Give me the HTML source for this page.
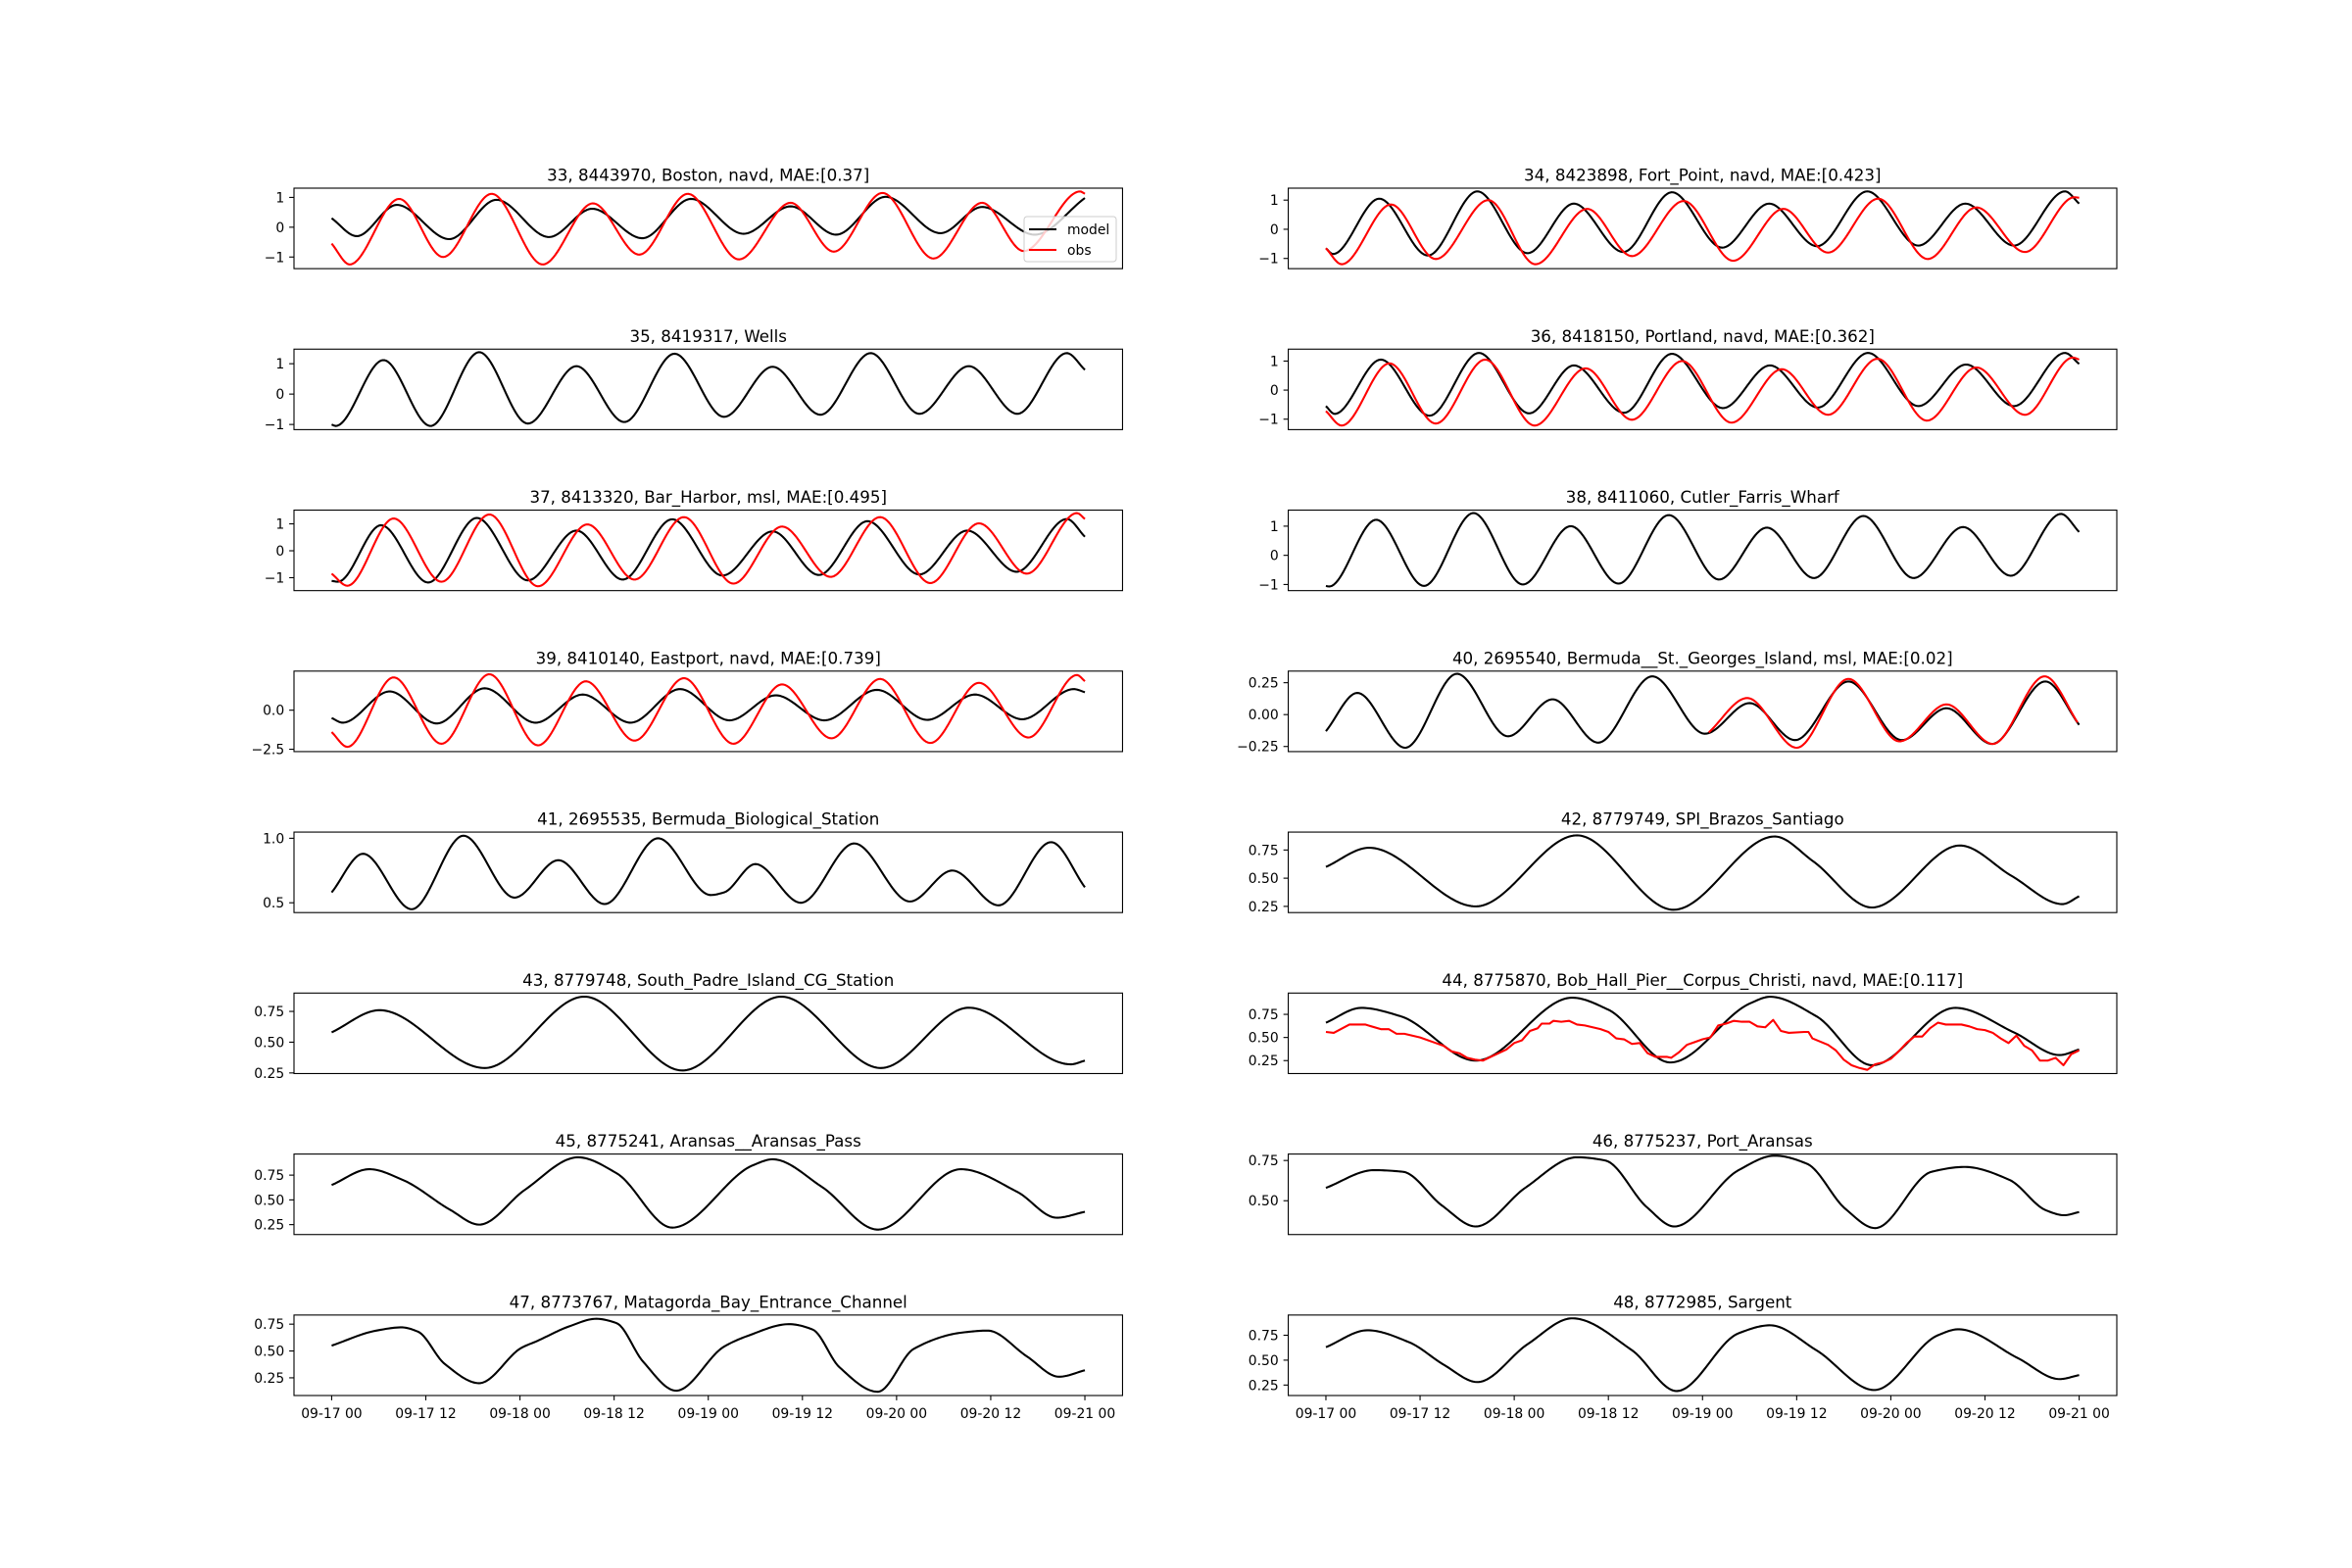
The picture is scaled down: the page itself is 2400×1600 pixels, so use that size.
<!DOCTYPE html>
<html><head><meta charset="utf-8"><title>Tide comparison</title>
<style>
html,body{margin:0;padding:0;background:#fff;}
svg{display:block;font-family:"DejaVu Sans","Liberation Sans",sans-serif;}
</style></head>
<body>
<svg id="fig" xmlns="http://www.w3.org/2000/svg" width="2400" height="1600" viewBox="0 0 2400 1600">
<rect x="0" y="0" width="2400" height="1600" fill="#fff"/>
</svg>
<script>
// ---- data (hours since 09-17 00, water level) ----
const xTickLabels=["09-17 00","09-17 12","09-18 00","09-18 12","09-19 00","09-19 12","09-20 00","09-20 12","09-21 00"];
const xTickHours=[0,12,24,36,48,60,72,84,96];

const bostonModelT=[0,3.2,8.3,15.0,21.0,27.7,33.2,39.6,45.8,52.5,58.5,64.3,70.6,77.6,82.9,89.6,96];
const bostonModelV=[0.3,-0.3,0.75,-0.4,0.92,-0.33,0.62,-0.37,0.95,-0.22,0.7,-0.25,1.02,-0.2,0.68,-0.25,0.98];
const bostonObsT=[0,2.3,8.6,14.2,20.4,26.9,33.3,39.2,45.4,51.9,58.5,64.0,70.2,76.7,82.9,88.2,95.4,96];
const bostonObsV=[-0.55,-1.25,0.95,-1.0,1.12,-1.25,0.8,-0.92,1.12,-1.08,0.82,-0.82,1.15,-1.05,0.82,-0.8,1.2,1.12];

const wellsModelT=[0,0.5,6.6,12.6,18.8,25.0,31.2,37.3,43.7,50.0,56.2,62.3,68.7,74.9,81.2,87.4,93.7,96];
const wellsModelV=[-1.0,-1.05,1.12,-1.05,1.38,-0.97,0.92,-0.92,1.33,-0.75,0.9,-0.68,1.35,-0.65,0.92,-0.65,1.35,0.8];

const barHarborModelT=[0,0.8,6.3,12.3,18.5,25.0,31.2,37.1,43.4,49.8,56.2,62.1,68.3,74.9,81.0,87.3,93.7,96];
const barHarborModelV=[-1.12,-1.15,0.95,-1.18,1.22,-1.1,0.75,-1.07,1.17,-0.92,0.72,-0.9,1.1,-0.88,0.75,-0.78,1.18,0.52];
const barHarborObsT=[0,2.0,7.9,14.0,20.1,26.3,32.6,38.6,44.9,51.2,57.4,63.6,69.9,76.3,82.5,88.6,95.0,96];
const barHarborObsV=[-0.85,-1.3,1.2,-1.15,1.35,-1.32,0.98,-1.07,1.25,-1.22,0.9,-0.97,1.25,-1.2,1.02,-0.85,1.4,1.18];

const eastportModelT=[0,1.4,7.4,13.4,19.5,26.0,32.0,38.1,44.4,50.7,56.6,62.8,69.5,75.9,82.0,88.0,94.6,96];
const eastportModelV=[-0.5,-0.8,1.2,-0.85,1.4,-0.8,1.0,-0.8,1.35,-0.65,0.95,-0.65,1.3,-0.62,1.0,-0.58,1.35,1.15];
const eastportObsT=[0,2.0,7.9,14.0,20.1,26.3,32.4,38.6,44.9,51.2,57.4,63.7,69.9,76.3,82.5,88.8,95.0,96];
const eastportObsV=[-1.4,-2.35,2.1,-2.15,2.3,-2.25,1.85,-1.95,2.05,-2.15,1.65,-1.8,2.0,-2.1,1.75,-1.75,2.25,1.85];

const bermBioModelT=[0,4.0,10.2,16.8,23.3,28.9,34.8,41.6,48.3,50.0,54.0,59.8,66.6,73.7,79.1,85.0,91.7,96];
const bermBioModelV=[0.58,0.88,0.45,1.02,0.54,0.83,0.49,1.0,0.56,0.58,0.8,0.5,0.96,0.51,0.75,0.48,0.97,0.62];

const southPadreModelT=[0,6.1,19.5,32.2,44.7,57.3,70.0,81.2,94.2,96];
const southPadreModelV=[0.58,0.76,0.29,0.87,0.27,0.87,0.29,0.78,0.32,0.35];

const aransasModelT=[0,4.8,9.1,15.1,18.8,24.6,31.4,36.3,43.4,53.7,56.2,62.5,69.6,80.2,87.4,92.4,96];
const aransasModelV=[0.65,0.81,0.7,0.4,0.25,0.6,0.93,0.77,0.22,0.85,0.91,0.63,0.2,0.81,0.58,0.32,0.38];

const matagordaModelT=[0,5.7,8.9,11.0,14.4,18.8,24.2,26.1,30.3,33.7,36.3,39.7,43.9,50.0,53.0,58.3,61.3,64.7,69.6,74.2,80.2,83.6,88.6,92.7,96];
const matagordaModelV=[0.55,0.69,0.72,0.68,0.38,0.2,0.53,0.59,0.73,0.8,0.76,0.4,0.13,0.54,0.64,0.75,0.7,0.35,0.12,0.52,0.67,0.69,0.45,0.26,0.32];

const fortPointModelT=[0,0.9,6.8,13.0,19.3,25.7,31.6,37.9,44.1,50.5,56.5,62.6,69.0,75.5,81.5,87.7,94.2,96];
const fortPointModelV=[-0.65,-0.85,1.05,-0.9,1.3,-0.82,0.88,-0.78,1.27,-0.63,0.88,-0.58,1.3,-0.56,0.88,-0.56,1.3,0.88];
const fortPointObsT=[0,2.0,8.3,14.0,20.7,26.7,33.3,39.0,45.6,51.9,58.3,64.0,70.4,76.7,82.9,89.1,95.4,96];
const fortPointObsV=[-0.65,-1.2,0.85,-1.02,1.0,-1.2,0.7,-0.92,0.97,-1.08,0.7,-0.8,1.05,-1.02,0.75,-0.78,1.1,1.08];

const portlandModelT=[0,1.1,7.0,13.2,19.5,25.9,31.6,38.0,44.1,50.6,56.6,62.7,69.1,75.5,81.6,87.7,94.2,96];
const portlandModelV=[-0.55,-0.82,1.05,-0.88,1.28,-0.8,0.85,-0.78,1.25,-0.62,0.85,-0.6,1.28,-0.55,0.88,-0.55,1.28,0.9];
const portlandObsT=[0,2.0,8.1,14.0,20.3,26.6,33.1,39.0,45.4,51.7,58.1,64.0,70.3,76.6,82.9,89.1,95.2,96];
const portlandObsV=[-0.72,-1.22,0.92,-1.15,1.05,-1.22,0.75,-1.02,1.0,-1.12,0.72,-0.85,1.08,-1.05,0.78,-0.85,1.12,1.05];

const cutlerModelT=[0,0.4,6.4,12.5,18.8,25.1,31.2,37.3,43.7,50.1,56.2,62.2,68.5,74.9,81.2,87.3,93.7,96];
const cutlerModelV=[-1.05,-1.07,1.22,-1.05,1.45,-1.0,1.0,-0.97,1.38,-0.83,0.95,-0.78,1.35,-0.78,0.97,-0.7,1.42,0.8];

const bermSGModelT=[0,4.0,10.1,16.7,23.2,28.9,34.7,41.6,48.3,54.0,59.8,66.6,73.4,79.1,84.9,91.7,96];
const bermSGModelV=[-0.13,0.17,-0.26,0.32,-0.17,0.12,-0.22,0.3,-0.15,0.09,-0.2,0.26,-0.2,0.05,-0.23,0.26,-0.08];
const bermSGObsT=[48.8,53.7,60.0,66.6,73.1,79.1,85.0,91.6,96];
const bermSGObsV=[-0.14,0.13,-0.26,0.28,-0.21,0.08,-0.23,0.3,-0.08];

const spiModelT=[0,5.5,19.1,32.0,44.3,57.2,62.1,69.6,80.8,87.4,93.9,96];
const spiModelV=[0.6,0.77,0.25,0.88,0.22,0.87,0.65,0.24,0.79,0.52,0.27,0.34];

const bobHallModelT=[0,4.5,9.5,19.1,31.4,36.0,43.9,54.1,56.6,62.5,69.6,80.2,87.8,93.5,96];
const bobHallModelV=[0.66,0.82,0.73,0.25,0.93,0.8,0.23,0.87,0.94,0.73,0.2,0.82,0.55,0.31,0.37];
const bobHallObsT=[0,1,3,5,7,8,9,10,12,14,15,16,17,18,19,20,21,22,23,24,25,26,27,27.5,28.5,29,30,31,32,33,35,36,37,38,39,40,41,42,43.5,44,45,46,47,48,49,50,51,52,53,54,55,56,57,58,59,61,61.5,62,64,65,66,67,68,69,70,71,72,73,74,75,76,77,78,79,80,81,82,83,84,85,86,87,88,89,90,91,92,93,94,95,96];
const bobHallObsV=[0.56,0.55,0.64,0.64,0.59,0.59,0.54,0.54,0.5,0.44,0.41,0.35,0.33,0.28,0.26,0.25,0.29,0.33,0.37,0.44,0.47,0.57,0.6,0.65,0.65,0.68,0.67,0.68,0.64,0.63,0.59,0.56,0.49,0.48,0.43,0.44,0.33,0.29,0.29,0.28,0.34,0.42,0.45,0.48,0.5,0.63,0.65,0.68,0.67,0.67,0.62,0.61,0.69,0.57,0.55,0.56,0.56,0.49,0.42,0.36,0.26,0.2,0.17,0.15,0.21,0.23,0.27,0.35,0.44,0.51,0.51,0.6,0.66,0.64,0.64,0.64,0.62,0.59,0.58,0.55,0.49,0.44,0.52,0.41,0.36,0.25,0.25,0.28,0.2,0.32,0.36];

const portAransasModelT=[0,6.1,9.8,14.8,19.1,25.4,32.0,35.6,40.9,44.4,52.6,57.2,61.3,66.2,70.0,77.2,81.4,87.1,91.8,94.1,96];
const portAransasModelV=[0.58,0.69,0.68,0.47,0.34,0.58,0.77,0.75,0.46,0.34,0.69,0.78,0.73,0.45,0.33,0.68,0.71,0.63,0.44,0.41,0.43];

const sargentModelT=[0,5.3,10.6,15.1,19.3,25.7,31.4,39.0,44.7,52.6,56.6,62.5,69.9,78.0,80.6,88.2,93.5,96];
const sargentModelV=[0.63,0.8,0.68,0.45,0.28,0.66,0.92,0.6,0.19,0.77,0.85,0.6,0.2,0.75,0.81,0.52,0.31,0.35];

// y tick values / labels per panel
const ticksPM1=[-1,0,1]; const labelsPM1=["\u22121","0","1"];
const ticksEast=[-2.5,0]; const labelsEast=["\u22122.5","0.0"];
const ticksBermBio=[0.5,1.0]; const labelsBermBio=["0.5","1.0"];
const ticksQ=[0.25,0.5,0.75]; const labelsQ=["0.25","0.50","0.75"];
const ticksSG=[-0.25,0,0.25]; const labelsSG=["\u22120.25","0.00","0.25"];
const ticksPA=[0.5,0.75]; const labelsPA=["0.50","0.75"];

const panels=[
 {col:0,row:0,name:"boston",title:"33, 8443970, Boston, navd, MAE:[0.37]",ylim:[-1.39,1.31],ticks:ticksPM1,labels:labelsPM1,model:[bostonModelT,bostonModelV],obs:[bostonObsT,bostonObsV],legend:true},
 {col:1,row:0,name:"fort-point",title:"34, 8423898, Fort_Point, navd, MAE:[0.423]",ylim:[-1.35,1.41],ticks:ticksPM1,labels:labelsPM1,model:[fortPointModelT,fortPointModelV],obs:[fortPointObsT,fortPointObsV]},
 {col:0,row:1,name:"wells",title:"35, 8419317, Wells",ylim:[-1.17,1.48],ticks:ticksPM1,labels:labelsPM1,model:[wellsModelT,wellsModelV]},
 {col:1,row:1,name:"portland",title:"36, 8418150, Portland, navd, MAE:[0.362]",ylim:[-1.36,1.41],ticks:ticksPM1,labels:labelsPM1,model:[portlandModelT,portlandModelV],obs:[portlandObsT,portlandObsV]},
 {col:0,row:2,name:"bar-harbor",title:"37, 8413320, Bar_Harbor, msl, MAE:[0.495]",ylim:[-1.48,1.51],ticks:ticksPM1,labels:labelsPM1,model:[barHarborModelT,barHarborModelV],obs:[barHarborObsT,barHarborObsV]},
 {col:1,row:2,name:"cutler",title:"38, 8411060, Cutler_Farris_Wharf",ylim:[-1.21,1.55],ticks:ticksPM1,labels:labelsPM1,model:[cutlerModelT,cutlerModelV]},
 {col:0,row:3,name:"eastport",title:"39, 8410140, Eastport, navd, MAE:[0.739]",ylim:[-2.65,2.5],ticks:ticksEast,labels:labelsEast,model:[eastportModelT,eastportModelV],obs:[eastportObsT,eastportObsV]},
 {col:1,row:3,name:"bermuda-st-georges",title:"40, 2695540, Bermuda__St._Georges_Island, msl, MAE:[0.02]",ylim:[-0.29,0.341],ticks:ticksSG,labels:labelsSG,model:[bermSGModelT,bermSGModelV],obs:[bermSGObsT,bermSGObsV]},
 {col:0,row:4,name:"bermuda-bio",title:"41, 2695535, Bermuda_Biological_Station",ylim:[0.424,1.048],ticks:ticksBermBio,labels:labelsBermBio,model:[bermBioModelT,bermBioModelV]},
 {col:1,row:4,name:"spi-brazos",title:"42, 8779749, SPI_Brazos_Santiago",ylim:[0.195,0.909],ticks:ticksQ,labels:labelsQ,model:[spiModelT,spiModelV]},
 {col:0,row:5,name:"south-padre",title:"43, 8779748, South_Padre_Island_CG_Station",ylim:[0.245,0.899],ticks:ticksQ,labels:labelsQ,model:[southPadreModelT,southPadreModelV]},
 {col:1,row:5,name:"bob-hall",title:"44, 8775870, Bob_Hall_Pier__Corpus_Christi, navd, MAE:[0.117]",ylim:[0.11,0.98],ticks:ticksQ,labels:labelsQ,model:[bobHallModelT,bobHallModelV],obs:[bobHallObsT,bobHallObsV],obsLinear:true},
 {col:0,row:6,name:"aransas-pass",title:"45, 8775241, Aransas__Aransas_Pass",ylim:[0.15,0.963],ticks:ticksQ,labels:labelsQ,model:[aransasModelT,aransasModelV]},
 {col:1,row:6,name:"port-aransas",title:"46, 8775237, Port_Aransas",ylim:[0.29,0.79],ticks:ticksPA,labels:labelsPA,model:[portAransasModelT,portAransasModelV]},
 {col:0,row:7,name:"matagorda",title:"47, 8773767, Matagorda_Bay_Entrance_Channel",ylim:[0.085,0.835],ticks:ticksQ,labels:labelsQ,model:[matagordaModelT,matagordaModelV],xticks:true},
 {col:1,row:7,name:"sargent",title:"48, 8772985, Sargent",ylim:[0.145,0.953],ticks:ticksQ,labels:labelsQ,model:[sargentModelT,sargentModelV],xticks:true}
];

const NS="http://www.w3.org/2000/svg";
const fig=document.getElementById('fig');
function mk(tag,attrs,parent){const e=document.createElementNS(NS,tag);for(const k in attrs)e.setAttribute(k,attrs[k]);(parent||fig).appendChild(e);return e;}

// monotone cubic interpolation
function monotone(T,V){
  const n=T.length,d=[],m=new Array(n);
  for(let i=0;i<n-1;i++)d.push((V[i+1]-V[i])/(T[i+1]-T[i]));
  m[0]=d[0];m[n-1]=d[n-2];
  for(let i=1;i<n-1;i++){
    if(d[i-1]*d[i]<=0)m[i]=0;
    else{const w1=2*(T[i+1]-T[i])+(T[i]-T[i-1]),w2=(T[i+1]-T[i])+2*(T[i]-T[i-1]);m[i]=(w1+w2)/(w1/d[i-1]+w2/d[i]);}
  }
  return function(t){
    let i=0;while(i<n-2&&t>T[i+1])i++;
    const h=T[i+1]-T[i],s=(t-T[i])/h;
    const h00=2*s*s*s-3*s*s+1,h10=s*s*s-2*s*s+s,h01=-2*s*s*s+3*s*s,h11=s*s*s-s*s;
    return h00*V[i]+h10*h*m[i]+h01*V[i+1]+h11*h*m[i+1];
  };
}

const L=300,Rt=2160,Top=192,Bot=1424;
const W=(Rt-L)/2.2, G=W*0.2;
const H=(Bot-Top)/15;

panels.forEach(p=>{
  const ax0=L+p.col*(W+G), ay0=Top+p.row*2*H;
  const g=mk('g',{});
  
  
  const xs=t=>ax0+W/22+t/96*(W*20/22);
  const ys=v=>ay0+H-(v-p.ylim[0])/(p.ylim[1]-p.ylim[0])*H;

  const title=mk('text',{x:ax0+W/2,y:ay0-7.5,'font-size':'16.7','text-anchor':'middle',fill:'#000'},g);
  title.textContent=p.title;
  
  

  const clipId='clip-'+p.name;
  const cp=mk('clipPath',{id:clipId},g);
  mk('rect',{x:ax0,y:ay0,width:W,height:H},cp);

  function drawSeries(T,V,color,label,linear){
    let pts=[];
    if(linear){for(let i=0;i<T.length;i++)pts.push(xs(T[i]).toFixed(2)+','+ys(V[i]).toFixed(2));}
    else{const f=monotone(T,V);const t0=T[0],t1=T[T.length-1];for(let t=t0;t<=t1+1e-9;t+=0.25)pts.push(xs(t).toFixed(2)+','+ys(f(t)).toFixed(2));}
    const pl=mk('polyline',{points:pts.join(' '),fill:'none',stroke:color,'stroke-width':'2.08','stroke-linejoin':'round','clip-path':'url(#'+clipId+')'},g);
    
    
  }
  drawSeries(p.model[0],p.model[1],'#000','model',false);
  if(p.obs)drawSeries(p.obs[0],p.obs[1],'#ff0000','obs',!!p.obsLinear);

  const frame=mk('rect',{x:ax0,y:ay0,width:W,height:H,fill:'none',stroke:'#000','stroke-width':'1.1'},g);
  
  

  p.ticks.forEach((v,i)=>{
    const y=ys(v);
    const tk=mk('line',{x1:ax0-4.9,x2:ax0,y1:y,y2:y,stroke:'#000','stroke-width':'1.1'},g);
    
    
    const tl=mk('text',{x:ax0-9.8,y:y+5,'font-size':'13.9','text-anchor':'end',fill:'#000'},g);
    tl.textContent=p.labels[i];
    
    
  });

  if(p.xticks){
    xTickHours.forEach((h,i)=>{
      const x=xs(h);
      const tk=mk('line',{x1:x,x2:x,y1:ay0+H,y2:ay0+H+4.9,stroke:'#000','stroke-width':'1.1'},g);
      
      
      const tl=mk('text',{x:x,y:ay0+H+23,'font-size':'13.9','text-anchor':'middle',fill:'#000'},g);
      tl.textContent=xTickLabels[i];
      
      
    });
  }

  if(p.legend){
    const lg=mk('g',{},g);
    
    
    mk('rect',{x:1045,y:221,width:94,height:46,rx:3,fill:'#fff','fill-opacity':'0.8',stroke:'#ccc','stroke-width':'1'},lg);
    const l1=mk('line',{x1:1050,x2:1078,y1:234,y2:234,stroke:'#000','stroke-width':'2.08'},lg);
    
    
    const t1=mk('text',{x:1089,y:239,'font-size':'13.9',fill:'#000'},lg);
    t1.textContent='model';
    
    
    const l2=mk('line',{x1:1050,x2:1078,y1:255,y2:255,stroke:'#ff0000','stroke-width':'2.08'},lg);
    
    
    const t2=mk('text',{x:1089,y:260,'font-size':'13.9',fill:'#000'},lg);
    t2.textContent='obs';
    
    
  }
});
</script>
</body></html>
